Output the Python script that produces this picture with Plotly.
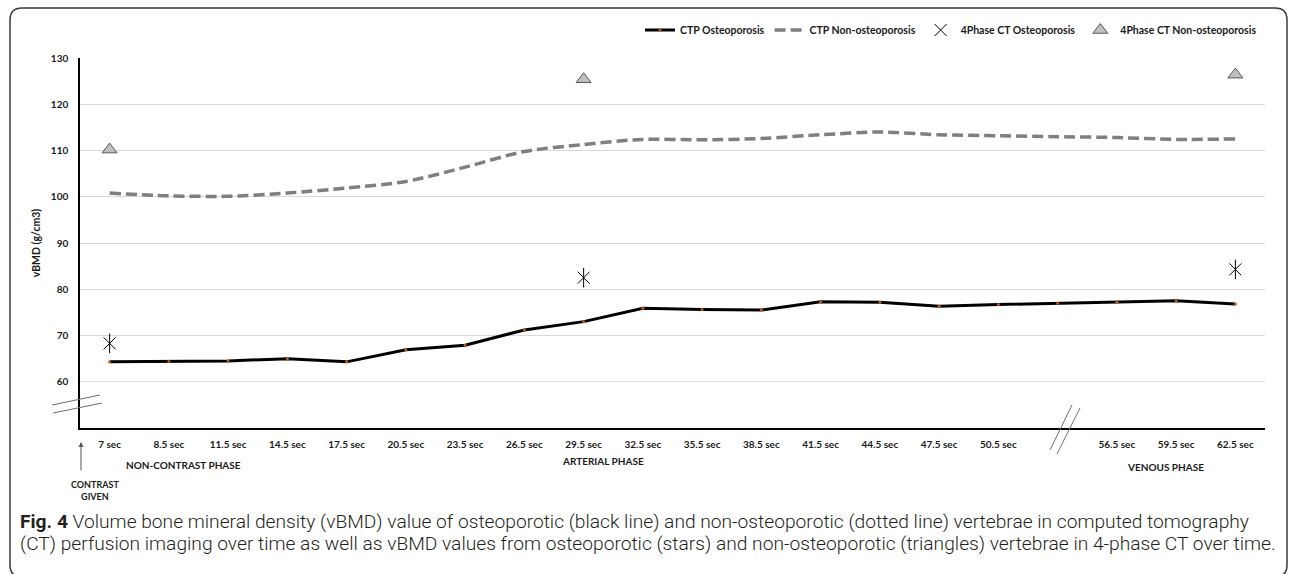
import plotly.graph_objects as go

# ---------------- data ----------------
categories = ["7 sec", "8.5 sec", "11.5 sec", "14.5 sec", "17.5 sec", "20.5 sec", "23.5 sec",
              "26.5 sec", "29.5 sec", "32.5 sec", "35.5 sec", "38.5 sec", "41.5 sec", "44.5 sec",
              "47.5 sec", "50.5 sec", "53.5 sec", "56.5 sec", "59.5 sec", "62.5 sec"]
tick_labels = ["7 sec", "8.5 sec", "11.5 sec", "14.5 sec", "17.5 sec", "20.5 sec", "23.5 sec",
               "26.5 sec", "29.5 sec", "32.5 sec", "35.5 sec", "38.5 sec", "41.5 sec", "44.5 sec",
               "47.5 sec", "50.5 sec", "", "56.5 sec", "59.5 sec", "62.5 sec"]
ctp_osteo = [64.3, 64.4, 64.5, 65.0, 64.3, 66.9, 67.9, 71.2, 73.0, 75.9,
             75.6, 75.5, 77.3, 77.2, 76.3, 76.7, 77.0, 77.2, 77.5, 76.8]
ctp_non_osteo = [100.8, 100.2, 100.1, 100.8, 101.9, 103.3, 106.4, 109.8, 111.3, 112.4,
                 112.3, 112.6, 113.4, 114.0, 113.4, 113.2, 113.0, 112.8, 112.4, 112.5]
phase4_x = ["7 sec", "29.5 sec", "62.5 sec"]
phase4_osteo = [68.3, 82.5, 84.3]
phase4_non_osteo = [110.2, 125.4, 126.4]
y_ticks = [60, 70, 80, 90, 100, 110, 120, 130]

W, H = 1292, 574
L, R, T, B = 80, 27, 58, 146
PW, PH = W - L - R, H - T - B


def px(x):
    return (x - L) / PW


def py(y):
    return (H - B - y) / PH


BOLD = dict(family="Lato", size=10, color="#1a1a1a", weight="bold")

fig = go.Figure()
fig.add_trace(go.Scatter(
    x=categories, y=ctp_osteo, name="CTP Osteoporosis", mode="lines+markers",
    line=dict(color="black", width=3),
    marker=dict(color="#c55a11", size=3, line=dict(width=0)),
))
fig.add_trace(go.Scatter(
    x=categories, y=ctp_non_osteo, name="CTP Non-osteoporosis", mode="lines",
    line=dict(color="#7f7f7f", width=3.5, dash="11px,5px", shape="spline", smoothing=0.8),
))
fig.add_trace(go.Scatter(
    x=phase4_x, y=phase4_osteo, name="4Phase CT Osteoporosis", mode="markers",
    marker=dict(symbol="x-thin-open", size=12, color="black", line=dict(color="black", width=1)),
))
fig.add_trace(go.Scatter(
    x=phase4_x, y=phase4_osteo, name="4Phase CT Osteoporosis", mode="markers", showlegend=False,
    marker=dict(symbol="line-ns-open", size=14, color="black", line=dict(color="black", width=1)),
))
fig.add_trace(go.Scatter(
    x=phase4_x, y=phase4_non_osteo, name="4Phase CT Non-osteoporosis", mode="markers",
    marker=dict(symbol="triangle-up", size=13, color="#bfbfbf", line=dict(color="#595959", width=1)),
))

fig.update_layout(
    width=W, height=H,
    margin=dict(l=L, r=R, t=T, b=B, autoexpand=False),
    paper_bgcolor="white", plot_bgcolor="white",
    font=BOLD,
    legend=dict(orientation="h", x=px(1262), xanchor="right", y=py(30), yanchor="middle",
                font=dict(family="Lato", size=10.5, color="#1a1a1a", weight="bold"),
                bgcolor="rgba(0,0,0,0)", itemwidth=30, traceorder="normal"),
    xaxis=dict(type="category", categoryorder="array", categoryarray=categories,
               range=[-0.5, len(categories) - 0.5], tickvals=categories, ticktext=tick_labels,
               showline=True, linecolor="black", linewidth=1.5, showgrid=False, zeroline=False,
               ticks="", tickfont=BOLD, ticklabelstandoff=6),
    yaxis=dict(range=[50, 130], tickvals=y_ticks, showline=True, linecolor="black", linewidth=1.5,
               showgrid=True, gridcolor="#d9d9d9", gridwidth=1, zeroline=False, ticks="",
               tickfont=BOLD, ticklabelstandoff=8,
               title=dict(text="vBMD (g/cm3)", font=dict(family="Lato", size=10.5, color="#1a1a1a",
                                                         weight="bold"), standoff=8)),
    showlegend=True,
)

# outer rounded frame
r = 12
x0, y0, x1, y1 = 10, 8, 1287, 577
path = (f"M {px(x0)},{py(y0 + r)} Q {px(x0)},{py(y0)} {px(x0 + r)},{py(y0)} "
        f"L {px(x1 - r)},{py(y0)} Q {px(x1)},{py(y0)} {px(x1)},{py(y0 + r)} "
        f"L {px(x1)},{py(y1 - r)} Q {px(x1)},{py(y1)} {px(x1 - r)},{py(y1)} "
        f"L {px(x0 + r)},{py(y1)} Q {px(x0)},{py(y1)} {px(x0)},{py(y1 - r)} Z")
shapes = [dict(type="path", xref="paper", yref="paper", path=path,
               line=dict(color="#3a3a3a", width=1.5), layer="below")]
# axis break marks
for (a, b, c, d) in [(52, 405, 100, 395), (53, 413, 102, 403),
                     (1072, 405, 1050, 450), (1080, 408, 1057, 454)]:
    shapes.append(dict(type="line", xref="paper", yref="paper",
                       x0=px(a), y0=py(b), x1=px(c), y1=py(d),
                       line=dict(color="#6f6f6f", width=1)))
fig.update_layout(shapes=shapes)

ann = []
ann.append(dict(x=px(81), y=py(442), xref="paper", yref="paper", text="", showarrow=True,
                ax=0, ay=30, arrowhead=2, arrowsize=1, arrowwidth=1, arrowcolor="#555555"))
ann.append(dict(x=px(95), y=py(490), xref="paper", yref="paper", text="CONTRAST<br>GIVEN",
                showarrow=False, font=dict(family="Lato", size=9, color="#1a1a1a", weight="bold"),
                align="center", xanchor="center", yanchor="middle"))
for txt, xc, yc in [("NON-CONTRAST PHASE", 183, 465), ("ARTERIAL PHASE", 603, 461),
                    ("VENOUS PHASE", 1165, 467)]:
    ann.append(dict(x=px(xc), y=py(yc), xref="paper", yref="paper", text=txt, showarrow=False,
                    font=BOLD, xanchor="center", yanchor="middle"))
cap_font = dict(family="Roboto", size=19.2, color="#231f20", weight=300)
ann.append(dict(x=px(18), y=py(521), xref="paper", yref="paper", xanchor="left", yanchor="middle",
                showarrow=False, font=cap_font,
                text="<b>Fig. 4</b> Volume bone mineral density (vBMD) value of osteoporotic (black line) and non-osteoporotic (dotted line) vertebrae in computed tomography"))
ann.append(dict(x=px(18), y=py(543), xref="paper", yref="paper", xanchor="left", yanchor="middle",
                showarrow=False, font=cap_font,
                text="(CT) perfusion imaging over time as well as vBMD values from osteoporotic (stars) and non-osteoporotic (triangles) vertebrae in 4-phase CT over time."))
fig.update_layout(annotations=ann)

fig.write_html("out.html", config={"displayModeBar": False},
               post_script="document.body.style.margin='0';")
